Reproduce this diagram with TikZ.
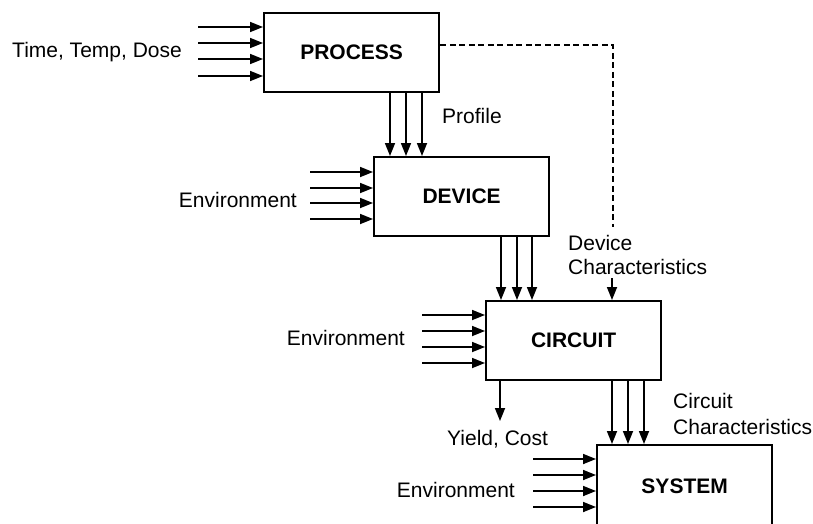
\documentclass[tikz,border=0pt]{standalone}
\usepackage{fontspec}
\setmainfont{Liberation Sans}
\usetikzlibrary{arrows.meta}
\begin{document}
\begin{tikzpicture}[x=1pt,y=-1pt,
  font=\fontsize{21}{24}\selectfont,
  blk/.style={draw,line width=2.3pt,inner sep=0pt,anchor=north west,
    minimum width=175pt,minimum height=79pt,font=\fontsize{21}{24}\selectfont\bfseries},
  arr/.style={line width=1.7pt,-{Triangle[length=13pt,width=10pt]}},
  lbl/.style={inner sep=0pt},
  dsh/.style={line width=1.3pt,dash pattern=on 6pt off 3.5pt}]
\useasboundingbox (0,0) rectangle (813,523);
\clip (0,0) rectangle (813,523);
% boxes
\node[blk] (proc) at (263,12) {PROCESS};
\node[blk] (dev)  at (373,156) {DEVICE};
\node[blk] (circ) at (485,300) {CIRCUIT};
\node[blk,minimum height=82pt] (sys) at (596,444) {\raisebox{-2pt}{SYSTEM}};
% input arrows
\foreach \y in {27,43,59,76} \draw[arr] (198,\y) -- (proc.west |- 0,\y);
\foreach \y in {172,188,203,219} \draw[arr] (310,\y) -- (dev.west |- 0,\y);
\foreach \y in {315,331,347,363} \draw[arr] (422,\y) -- (circ.west |- 0,\y);
\foreach \y in {459,475,491,507} \draw[arr] (533,\y) -- (sys.west |- 0,\y);
% down arrows
\foreach \x in {390,406,422} \draw[arr] (\x,0 |- proc.south) -- (\x,0 |- dev.north);
\foreach \x in {501,517,532} \draw[arr] (\x,0 |- dev.south) -- (\x,0 |- circ.north);
\foreach \x in {612,628,644} \draw[arr] (\x,0 |- circ.south) -- (\x,0 |- sys.north);
% labels
\node[lbl,anchor=base west] (ttd) at (12,57) {Time, Temp, Dose};
\node[lbl,anchor=base west] (prof) at (442,123) {Profile};
\node[lbl,anchor=base east] (env1) at (297,207) {Environment};
\node[lbl,anchor=base east] (env2) at (405,345) {Environment};
\node[lbl,anchor=base east] (env3) at (515,497) {Environment};
\node[lbl,anchor=base west] (dc1) at (568,250) {Device};
\node[lbl,anchor=base west] (dc2) at (568,274) {Characteristics};
\node[lbl,anchor=base west] (cc1) at (673,408) {Circuit};
\node[lbl,anchor=base west] (cc2) at (673,434) {Characteristics};
\node[lbl,anchor=base west] (yc) at (447,445) {Yield, Cost};
% dashed device-characteristics path
\coordinate (dstart) at (proc.east |- 0,45);
\coordinate (dcorner) at (613,45);
\draw[dsh] (dstart) -- (dcorner) -- (dcorner |- 0,227);
\draw[arr] (612,278) -- (612,0 |- circ.north);
% yield arrow
\draw[arr] (500,0 |- circ.south) -- (500,421);
\end{tikzpicture}
\end{document}
